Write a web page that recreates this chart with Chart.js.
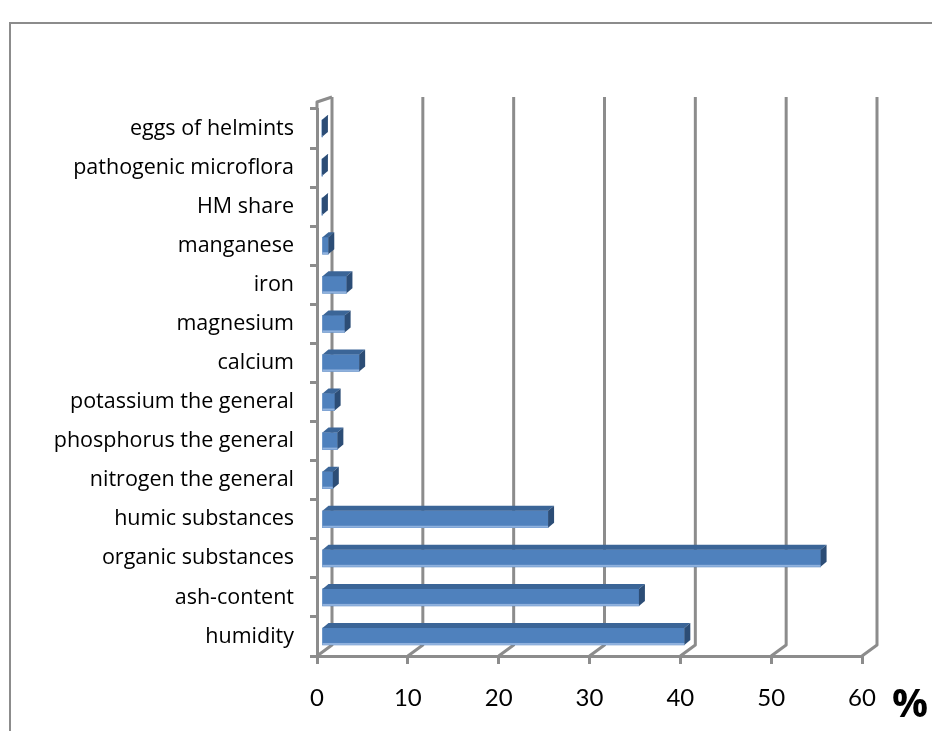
<!DOCTYPE html>
<html>
<head>
<meta charset="utf-8">
<title>Composition, %</title>
<script src="https://cdn.jsdelivr.net/npm/chart.js@4/dist/chart.umd.min.js"></script>
<style>
  html, body { margin: 0; padding: 0; background: #fff; overflow: hidden; }
  canvas { display: block; }
</style>
</head>
<body>
<canvas id="chart" width="932" height="731"></canvas>
<script>
(function () {
    'use strict';

    // rows as they read from top to bottom
    const categories = [
        'eggs of helmints',
        'pathogenic microflora',
        'HM share',
        'manganese',
        'iron',
        'magnesium',
        'calcium',
        'potassium the general',
        'phosphorus the general',
        'nitrogen the general',
        'humic substances',
        'organic substances',
        'ash-content',
        'humidity'
    ];
    const values = [0.1, 0.1, 0.1, 0.8, 2.8, 2.6, 4.2, 1.5, 1.8, 1.3, 25, 55, 35, 40];
    const xMin = 0;
    const xMax = 60;
    const xStep = 10;
    const unitLabel = '%';

    const GRID = '#8c8c8c';
    const FRONT = '#4f81bd';
    const TOP = '#3b6597';
    const SIDE = '#2c4d76';

    // depth of the 3d box
    const WALL_DX = 15;
    const WALL_RISE = 7;
    const WALL_DY_TOP = 12;
    const WALL_DY_BOTTOM = 11;
    const BAR_SHIFT = 4;
    const BAR_DX = 6;
    const BAR_DY = 5;

    const framePlugin = {
        id: 'frame',
        beforeDraw(chart) {
            const ctx = chart.ctx;
            ctx.save();
            ctx.fillStyle = '#fff';
            ctx.fillRect(0, 0, chart.width, chart.height);
            ctx.strokeStyle = GRID;
            ctx.lineWidth = 2;
            ctx.beginPath();
            ctx.moveTo(10, chart.height);
            ctx.lineTo(10, 23);
            ctx.lineTo(chart.width, 23);
            ctx.stroke();
            ctx.restore();
        }
    };

    const wallPlugin = {
        id: 'walls',
        beforeDatasetsDraw(chart) {
            const { ctx, chartArea } = chart;
            const xs = chart.scales.x;
            const backTop = chartArea.top - WALL_DY_TOP;
            const backBottom = chartArea.bottom - WALL_DY_BOTTOM;
            ctx.save();
            ctx.strokeStyle = GRID;
            ctx.lineWidth = 3;
            ctx.lineJoin = 'round';
            xs.ticks.forEach(t => {
                const x = xs.getPixelForValue(t.value);
                ctx.beginPath();
                ctx.moveTo(x + WALL_DX, backTop);
                ctx.lineTo(x + WALL_DX, backBottom);
                ctx.lineTo(x, chartArea.bottom);
                ctx.stroke();
            });
            // left wall runs a little above the first category
            ctx.beginPath();
            ctx.moveTo(chartArea.left, chartArea.top);
            ctx.lineTo(chartArea.left, chartArea.top - WALL_RISE);
            ctx.lineTo(chartArea.left + WALL_DX, backTop);
            ctx.stroke();
            ctx.restore();

            // bars sit a little behind the front edge
            ctx.save();
            ctx.translate(BAR_SHIFT, 0);
        },
        afterDatasetsDraw(chart) {
            chart.ctx.restore();
        }
    };

    const barDepthPlugin = {
        id: 'barDepth',
        afterDatasetsDraw(chart) {
            const ctx = chart.ctx;
            const meta = chart.getDatasetMeta(0);
            ctx.save();
            meta.data.forEach(bar => {
                const p = bar.getProps(['x', 'y', 'base', 'height'], true);
                const top = p.y - p.height / 2;
                const bottom = p.y + p.height / 2;
                ctx.fillStyle = TOP;
                ctx.beginPath();
                ctx.moveTo(p.base, top);
                ctx.lineTo(p.x, top);
                ctx.lineTo(p.x + BAR_DX, top - BAR_DY);
                ctx.lineTo(p.base + BAR_DX, top - BAR_DY);
                ctx.closePath();
                ctx.fill();
                ctx.fillStyle = SIDE;
                ctx.beginPath();
                ctx.moveTo(p.x, top);
                ctx.lineTo(p.x + BAR_DX, top - BAR_DY);
                ctx.lineTo(p.x + BAR_DX, bottom - BAR_DY);
                ctx.lineTo(p.x, bottom);
                ctx.closePath();
                ctx.fill();
                // light lower edge of the front face
                ctx.fillStyle = 'rgba(160, 190, 230, 0.8)';
                ctx.fillRect(p.base, bottom - 2, p.x - p.base, 2);
            });
            ctx.restore();
        }
    };

    const unitPlugin = {
        id: 'unit',
        afterDraw(chart) {
            const ctx = chart.ctx;
            ctx.save();
            ctx.fillStyle = '#000';
            ctx.font = 'bold 40px "Open Sans", sans-serif';
            ctx.textAlign = 'left';
            ctx.textBaseline = 'middle';
            ctx.fillText(unitLabel, 892, 706);
            ctx.restore();
        }
    };

    new Chart(document.getElementById('chart'), {
        type: 'bar',
        data: {
            labels: categories,
            datasets: [{
                data: values,
                backgroundColor: FRONT,
                borderWidth: 0,
                barThickness: 17
            }]
        },
        options: {
            indexAxis: 'y',
            responsive: false,
            animation: false,
            devicePixelRatio: 1,
            layout: { padding: { top: 109, right: 70, left: 0, bottom: 0 } },
            plugins: {
                legend: { display: false },
                tooltip: { enabled: false }
            },
            scales: {
                x: {
                    type: 'linear',
                    min: xMin,
                    max: xMax,
                    afterFit(scale) { scale.height = 75; },
                    ticks: {
                        stepSize: xStep,
                        color: '#000',
                        padding: 20,
                        font: { family: 'Lato, "Open Sans", sans-serif', size: 24 }
                    },
                    grid: {
                        drawOnChartArea: false,
                        tickLength: 8,
                        color: GRID,
                        lineWidth: 3
                    },
                    border: { color: GRID, width: 3 }
                },
                y: {
                    type: 'category',
                    afterFit(scale) { scale.width = 317; },
                    ticks: {
                        color: '#000',
                        padding: 16,
                        autoSkip: false,
                        font: { family: '"Open Sans", sans-serif', size: 21.5 }
                    },
                    grid: {
                        drawOnChartArea: false,
                        tickLength: 7,
                        color: GRID,
                        lineWidth: 3
                    },
                    border: { color: GRID, width: 3 }
                }
            }
        },
        plugins: [framePlugin, barDepthPlugin, wallPlugin, unitPlugin]
    });
})();
</script>
</body>
</html>
